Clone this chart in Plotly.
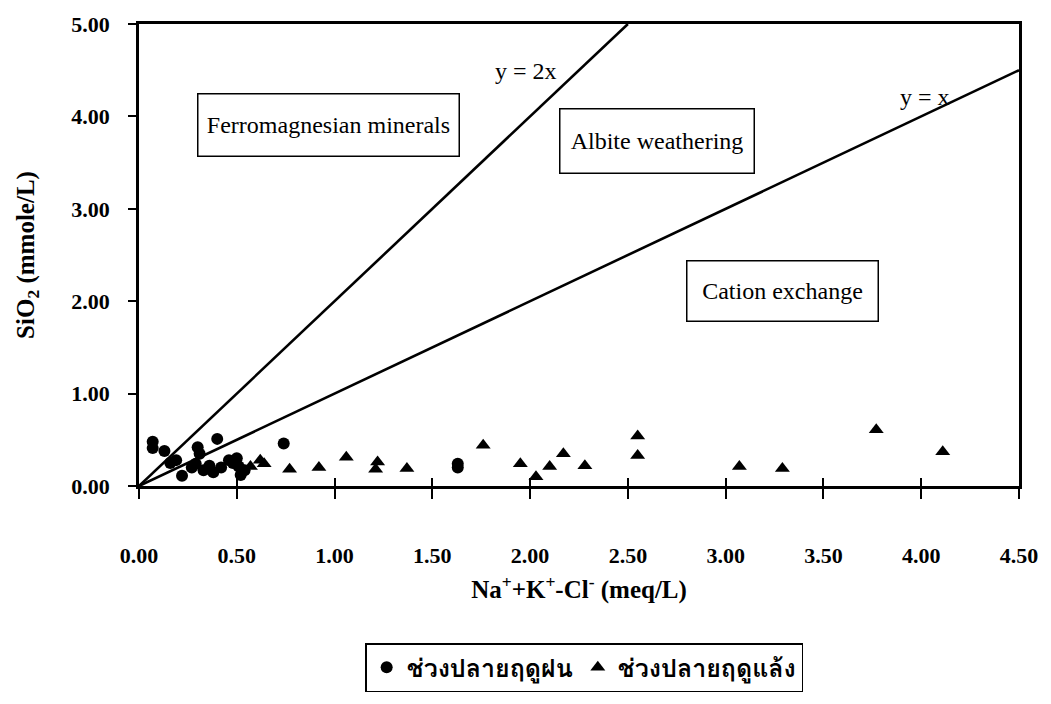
import plotly.graph_objects as go

# ---- data ----
wet_x = [0.07, 0.07, 0.13, 0.16, 0.19, 0.22, 0.27, 0.29, 0.30, 0.31, 0.33, 0.36, 0.38,
         0.40, 0.42, 0.46, 0.48, 0.50, 0.51, 0.52, 0.54, 0.74, 1.63, 1.63]
wet_y = [0.48, 0.41, 0.38, 0.25, 0.28, 0.11, 0.20, 0.24, 0.42, 0.35, 0.17, 0.22, 0.15,
         0.51, 0.20, 0.28, 0.25, 0.30, 0.21, 0.12, 0.17, 0.46, 0.24, 0.20]
dry_x = [0.57, 0.62, 0.64, 0.77, 0.92, 1.06, 1.21, 1.22, 1.37, 1.76, 1.95, 2.03, 2.10,
         2.17, 2.28, 2.55, 2.55, 3.07, 3.29, 3.77, 4.11]
dry_y = [0.21, 0.28, 0.24, 0.18, 0.20, 0.31, 0.18, 0.26, 0.19, 0.44, 0.24, 0.10, 0.21,
         0.35, 0.22, 0.54, 0.33, 0.21, 0.19, 0.61, 0.37]

line1_x = [0.0, 4.5]          # y = x
line2_x = [0.0, 2.5]          # y = 2x (clipped at top of axis)
x_ticks = [0.0, 0.5, 1.0, 1.5, 2.0, 2.5, 3.0, 3.5, 4.0, 4.5]
y_ticks = [0.0, 1.0, 2.0, 3.0, 4.0, 5.0]

zones = ["Ferromagnesian minerals", "Albite weathering", "Cation exchange"]
zone_x = [0.97, 2.65, 3.29]
zone_y = [3.91, 3.73, 2.11]
zone_w = [258, 191, 188]
zone_h = [59, 61, 57]
eq_text = ["y = 2x", "y = x"]
eq_x = [1.98, 4.02]
eq_y = [4.49, 4.21]

legend_names = ["ช่วงปลายฤดูฝน", "ช่วงปลายฤดูแล้ง"]

SERIF = "Liberation Serif, Times New Roman, serif"
THAI = "Loma, Garuda, Norasi, Tlwg Typo, Noto Sans Thai Looped, Noto Serif Thai, Noto Sans Thai, sans-serif"

fig = go.Figure()

fig.add_trace(go.Scatter(x=line2_x, y=[2 * v for v in line2_x], mode="lines",
                         line=dict(color="black", width=2.6), showlegend=False,
                         hoverinfo="skip"))
fig.add_trace(go.Scatter(x=line1_x, y=[v for v in line1_x], mode="lines",
                         line=dict(color="black", width=2.6), showlegend=False,
                         hoverinfo="skip"))

fig.add_trace(go.Scatter(x=wet_x, y=wet_y, mode="markers", name=legend_names[0],
                         marker=dict(symbol="circle", size=12, color="black")))
fig.add_trace(go.Scatter(x=dry_x, y=dry_y, mode="markers", name=legend_names[1],
                         marker=dict(symbol="triangle-up", size=13, color="black")))

# invisible trace for the inside-tick overlay axis
fig.add_trace(go.Scatter(x=[None], y=[None], xaxis="x2", showlegend=False,
                         hoverinfo="skip", mode="markers"))

for t, x, y, w, h in zip(zones, zone_x, zone_y, zone_w, zone_h):
    fig.add_annotation(x=x, y=y, text=t, showarrow=False,
                       font=dict(family=SERIF, size=24, color="black"),
                       width=w, height=h, align="center", valign="middle",
                       bordercolor="black", borderwidth=1.5, borderpad=1,
                       bgcolor="white")
for t, x, y in zip(eq_text, eq_x, eq_y):
    fig.add_annotation(x=x, y=y, text=t, showarrow=False,
                       font=dict(family=SERIF, size=24, color="black"))

fig.update_layout(
    width=1051, height=704,
    margin=dict(l=139, r=32, t=15, b=216),
    plot_bgcolor="white", paper_bgcolor="white",
    showlegend=True,
    legend=dict(orientation="h", x=0.257, y=-0.393, xanchor="left", yanchor="middle",
                bordercolor="black", borderwidth=1.5,
                font=dict(family=THAI, size=25, color="black", weight="bold"),
                itemwidth=30, tracegroupgap=0),
    xaxis=dict(range=[0, 4.5], tickvals=x_ticks, tickformat=".2f",
               showline=True, linecolor="black", linewidth=2.5, mirror=True,
               ticks="outside", ticklen=10, tickwidth=2, tickcolor="black",
               showgrid=False, zeroline=False, ticklabelstandoff=38,
               tickfont=dict(family=SERIF, size=22, color="black", weight="bold"),
               title=dict(text="Na<sup>+</sup>+K<sup>+</sup>-Cl<sup>-</sup> (meq/L)",
                          font=dict(family=SERIF, size=25, color="black", weight="bold"),
                          standoff=14)),
    xaxis2=dict(range=[0, 4.5], overlaying="x", matches="x", anchor="y",
                tickvals=x_ticks, ticks="inside", ticklen=8, tickwidth=2,
                tickcolor="black", showticklabels=False, showline=False,
                showgrid=False, zeroline=False, side="bottom"),
    yaxis=dict(range=[0, 5], tickvals=y_ticks, tickformat=".2f",
               showline=True, linecolor="black", linewidth=2.5, mirror=True,
               ticks="outside", ticklen=8, tickwidth=2, tickcolor="black",
               showgrid=False, zeroline=False, ticklabelstandoff=14,
               tickfont=dict(family=SERIF, size=22, color="black", weight="bold"),
               title=dict(text="SiO<sub>2</sub> (mmole/L)",
                          font=dict(family=SERIF, size=25, color="black", weight="bold"),
                          standoff=30)),
)

fig.write_html("out.html")
